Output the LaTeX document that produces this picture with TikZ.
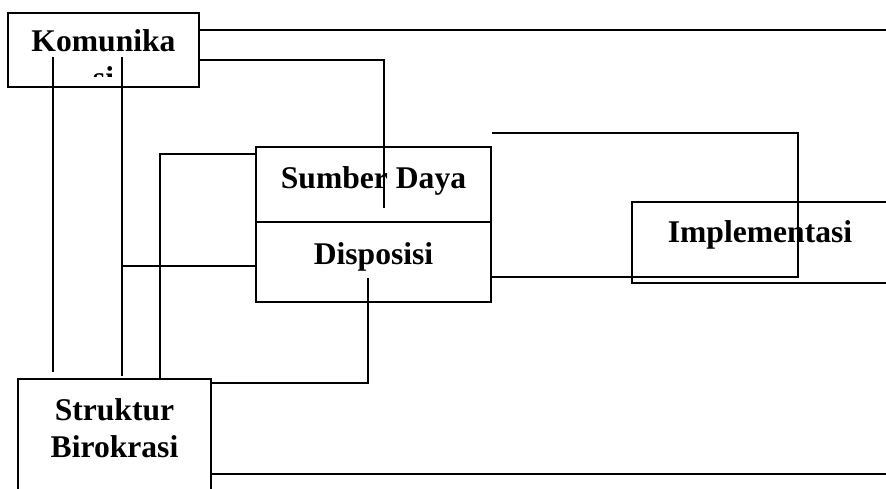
\documentclass[tikz,border=0pt]{standalone}
\usepackage{fontspec}
\setmainfont{Liberation Serif}
\usetikzlibrary{calc}
\usetikzlibrary{positioning}

\begin{document}
\begin{tikzpicture}
		[x=1pt, y=-1pt,
		font=\fontsize{31.6}{37}\selectfont\bfseries,
		line width=1.6pt
		]
		
		% Box style: the text sits near the top of the box
		\tikzstyle{box}=[draw,rectangle,inner xsep=0,inner ysep=0,align=center];
		
		\clip(0,0)rectangle(886,489);
		
		% The boxes
		\node(kom)[box,minimum width=191pt,minimum height=74pt,text height=39pt,text depth=35pt]at(103.5,50){Komunika};
		\node(sd)[box,minimum width=235pt,minimum height=75pt,text height=42pt,text depth=33pt]at(373.5,184.5){Sumber Daya};
		\node(dis)[box,minimum width=235pt,minimum height=80pt,text height=42pt,text depth=38pt]at(373.5,262){Disposisi};
		\node(imp)[box,minimum width=256pt,minimum height=81pt,text height=40pt,text depth=41pt]at(760,242.5){Implementasi};
		\node(str)[box,minimum width=193pt,minimum height=130pt,text height=78pt,text depth=52pt]at(114.5,444){Struktur\\Birokrasi};
		
		% Second line of Komunikasi, cut off inside its box
		\begin{scope}
			\clip(kom.west|-0,20)rectangle(kom.east|-0,77);
			\node(kom2)[anchor=base]at($(kom.base)+(0,37)$){si};
		\end{scope}
		
		% Free ends of the lines
		\coordinate(k1)at(886,30);
		\coordinate(k2)at(384,208);
		\coordinate(k3)at(53,57);
		\coordinate(k4)at(53,372);
		\coordinate(k5)at(122,57);
		\coordinate(k6)at(122,376);
		\coordinate(s1)at(160,154);
		\coordinate(d1)at(122,266);
		\coordinate(i1)at(798,277);
		\coordinate(b1)at(368,278);
		\coordinate(b2)at(886,474);
		
		% Lines from Komunikasi
		\draw(kom.east|-k1)--(k1);
		\draw(kom.east|-0,60)-|(k2);
		\draw(k3)--(k4);
		\draw(k5)--(k6);
		
		% Lines to Sumber Daya and Disposisi
		\draw(sd.west|-s1)-|(str.north-|s1);
		\draw(d1)--(dis.west|-d1);
		
		% Line round Implementasi
		\draw(sd.east|-0,133)-|(i1)--(dis.east|-i1);
		
		% Lines from Struktur Birokrasi
		\draw(str.east|-0,383)-|(b1);
		\draw(str.east|-b2)--(b2);
		\end{tikzpicture}
\end{document}
